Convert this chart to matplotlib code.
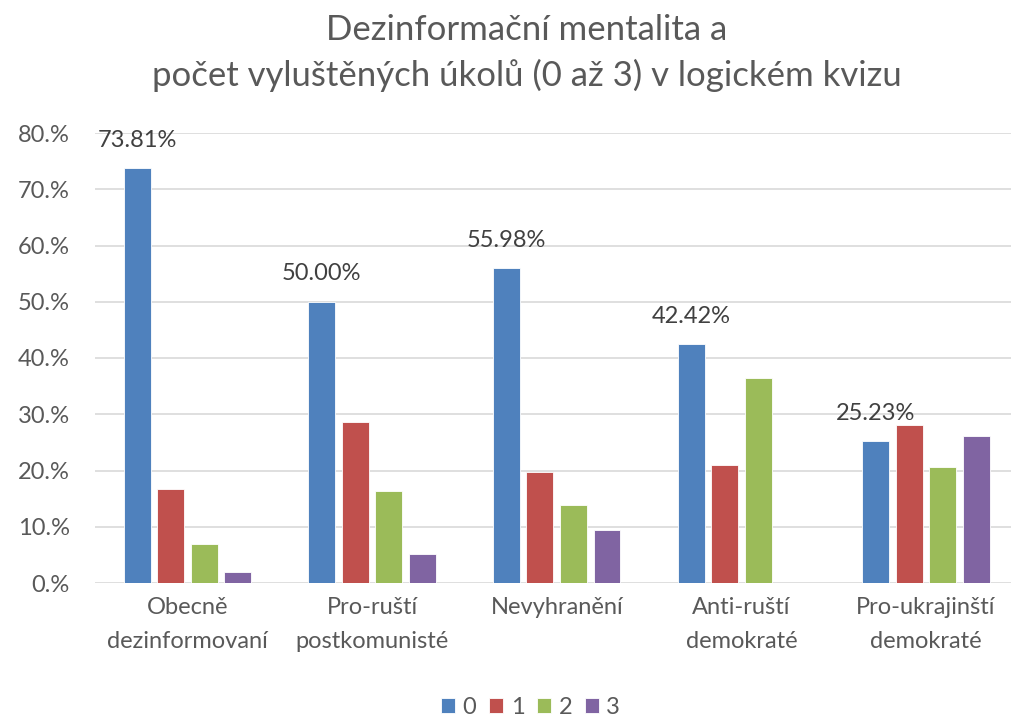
import matplotlib.pyplot as plt
import numpy as np

# Data (share of respondents, %)
categories = ['Obecně\ndezinformovaní', 'Pro-ruští\npostkomunisté', 'Nevyhranění',
              'Anti-ruští\ndemokraté', 'Pro-ukrajinští\ndemokraté']
series_names = ['0', '1', '2', '3']
s0 = [73.81, 50.00, 55.98, 42.42, 25.23]
s1 = [16.8, 28.7, 19.8, 21.0, 28.1]
s2 = [6.9, 16.3, 13.8, 36.4, 20.6]
s3 = [2.0, 5.2, 9.4, 0.0, 26.2]
yticks = [0, 10, 20, 30, 40, 50, 60, 70, 80]
ytick_labels = ['0.%', '10.%', '20.%', '30.%', '40.%', '50.%', '60.%', '70.%', '80.%']

colors = ['#4F81BD', '#C0504D', '#9BBB59', '#8064A2']
text_gray = '#595959'

plt.rcParams['font.family'] = ['Lato', 'DejaVu Sans']

fig = plt.figure(figsize=(10.11, 7.2), dpi=100)
ax = fig.add_axes([95 / 1011, 137 / 720, 916 / 1011, 450 / 720])

x = np.arange(len(categories))
step = 0.1816
width = 0.146
all_series = [s0, s1, s2, s3]
for i, vals in enumerate(all_series):
    pos = x + (i - 1.5) * step
    bars = ax.bar(pos, vals, width, color=colors[i], label=series_names[i],
                  edgecolor='white', linewidth=0.6, zorder=3)
    if i == 0:
        for b, v in zip(bars, vals):
            ax.annotate(f'{v:.2f}%', (b.get_x() + b.get_width() / 2, v),
                        xytext=(0, 20), textcoords='offset points',
                        ha='center', va='center', fontsize=17, color='#404040')

ax.set_xlim(-0.5, 4.46)
ax.set_ylim(0, 80)
ax.set_yticks(yticks)
ax.set_yticklabels(ytick_labels, fontsize=17, color=text_gray)
ax.set_xticks(x)
ax.set_xticklabels(categories, fontsize=17, color=text_gray, linespacing=1.75)
ax.tick_params(axis='y', length=0, pad=18)
ax.tick_params(axis='x', length=0, pad=10)
ax.grid(axis='y', color='#D9D9D9', linewidth=1.2, zorder=0)
for s in ax.spines.values():
    s.set_visible(False)

fig.text(0.521, 0.958, 'Dezinformační mentalita a', ha='center', va='center',
         fontsize=25, color=text_gray)
fig.text(0.521, 0.895, 'počet vyluštěných úkolů (0 až 3) v logickém kvizu',
         ha='center', va='center', fontsize=25, color=text_gray)

leg = fig.legend(loc='center', bbox_to_anchor=(0.525, 0.018), ncol=4, frameon=False,
                 fontsize=17, handlelength=0.6, handleheight=0.6,
                 handletextpad=0.3, columnspacing=0.55)
for t in leg.get_texts():
    t.set_color(text_gray)

fig.savefig('out.png', dpi=100)
